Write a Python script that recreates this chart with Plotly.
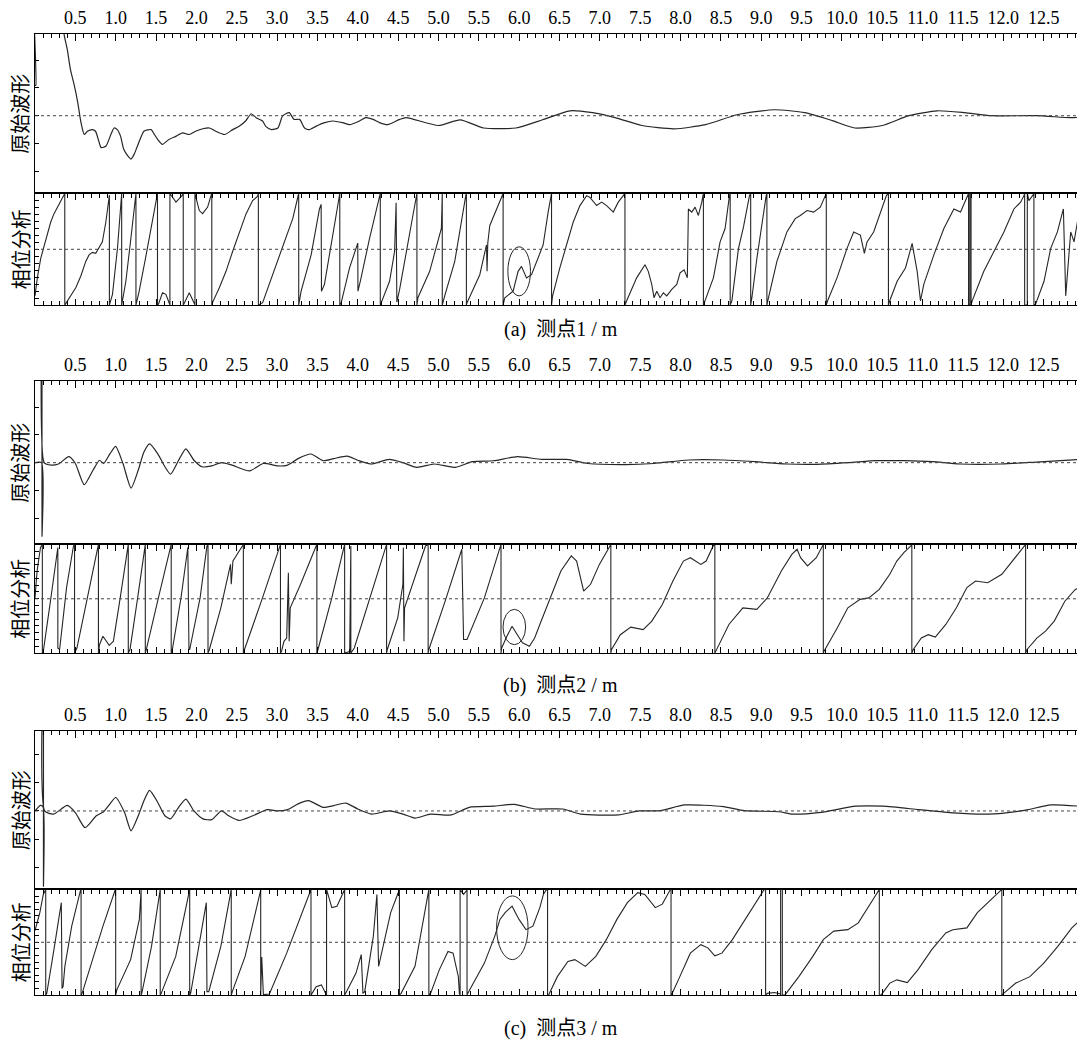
import plotly.graph_objects as go

# ---------------- data ----------------
tick_vals = [0.5, 1.0, 1.5, 2.0, 2.5, 3.0, 3.5, 4.0, 4.5, 5.0, 5.5, 6.0, 6.5,
             7.0, 7.5, 8.0, 8.5, 9.0, 9.5, 10.0, 10.5, 11.0, 11.5, 12.0, 12.5]
tick_text = ["0.5", "1.0", "1.5", "2.0", "2.5", "3.0", "3.5", "4.0", "4.5", "5.0", "5.5", "6.0", "6.5",
             "7.0", "7.5", "8.0", "8.5", "9.0", "9.5", "10.0", "10.5", "11.0", "11.5", "12.0", "12.5"]

# raw waveform, point 1  (distance m, amplitude)
wave_a = [(0.0, 0.37), (0.01, 0.37), (0.012, 3.0), (0.34, 3.0), (0.355, 1.3), (0.36, 1.0), (0.40, 0.81),
          (0.44, 0.56), (0.48, 0.40), (0.53, 0.16), (0.57, -0.085), (0.61, -0.23), (0.65, -0.19), (0.71, -0.17),
          (0.75, -0.19), (0.79, -0.31), (0.82, -0.39), (0.88, -0.37), (0.94, -0.23), (0.98, -0.15), (1.02, -0.17),
          (1.06, -0.25), (1.10, -0.41), (1.15, -0.49), (1.19, -0.53), (1.23, -0.47), (1.27, -0.37), (1.31, -0.27),
          (1.35, -0.19), (1.44, -0.17), (1.48, -0.23), (1.52, -0.29), (1.58, -0.35), (1.66, -0.29), (1.75, -0.25),
          (1.83, -0.21), (1.91, -0.23), (1.99, -0.19), (2.08, -0.16), (2.16, -0.15), (2.24, -0.19), (2.35, -0.23),
          (2.45, -0.17), (2.53, -0.13), (2.61, -0.065), (2.68, 0.024), (2.74, -0.024), (2.82, -0.065), (2.86, -0.13),
          (2.93, -0.17), (3.01, -0.15), (3.07, 0.0), (3.15, 0.037), (3.21, -0.045), (3.28, -0.045), (3.34, -0.15),
          (3.40, -0.17), (3.48, -0.13), (3.59, -0.085), (3.69, -0.065), (3.81, -0.085), (3.90, -0.11), (4.02, -0.065),
          (4.10, -0.024), (4.19, -0.045), (4.27, -0.085), (4.37, -0.11), (4.52, -0.045), (4.60, -0.024), (5.00, -0.12),
          (5.27, -0.05), (5.56, -0.15), (5.96, -0.15), (6.29, -0.05), (6.63, 0.06), (6.91, 0.037), (7.19, -0.024),
          (7.52, -0.12), (7.92, -0.16), (8.31, -0.11), (8.70, 0.012), (9.16, 0.073), (9.54, 0.037), (9.88, -0.06),
          (10.16, -0.15), (10.50, -0.12), (10.83, 0.0), (11.18, 0.06), (11.52, 0.037), (11.85, 0.0), (12.41, 0.0),
          (12.83, -0.024), (12.95, -0.02)]

wave_b = [(0.0, 0.0), (0.08, 0.0), (0.087, -0.9), (0.087, 2.0), (0.114, 0.0), (0.20, -0.03), (0.29, -0.016),
          (0.42, 0.073), (0.50, -0.01), (0.61, -0.27), (0.72, -0.09), (0.80, 0.03), (0.85, -0.01), (0.93, 0.11),
          (1.00, 0.20), (1.09, -0.01), (1.19, -0.31), (1.28, -0.09), (1.35, 0.13), (1.42, 0.23), (1.52, 0.11),
          (1.61, -0.05), (1.68, -0.14), (1.78, 0.03), (1.87, 0.17), (1.97, 0.03), (2.07, -0.05), (2.19, -0.04),
          (2.31, 0.0), (2.44, -0.03), (2.66, -0.10), (2.83, -0.01), (3.01, -0.04), (3.13, -0.03), (3.26, 0.05),
          (3.42, 0.106), (3.57, 0.024), (3.70, 0.05), (3.87, 0.08), (4.00, 0.03), (4.17, -0.016), (4.39, 0.04),
          (4.56, 0.0), (4.73, -0.057), (4.95, -0.016), (5.21, -0.057), (5.42, 0.012), (5.68, 0.024), (5.98, 0.073),
          (6.28, 0.04), (6.59, 0.04), (6.85, -0.01), (7.32, -0.024), (7.67, -0.01), (8.10, 0.033), (8.53, 0.033),
          (8.92, 0.012), (9.31, -0.016), (9.69, -0.02), (10.08, 0.0), (10.43, 0.024), (10.77, 0.024), (11.12, 0.012),
          (11.46, -0.016), (11.98, -0.016), (12.41, 0.008), (12.95, 0.04)]

wave_c = [(0.0, 0.0), (0.07, 0.07), (0.10, 0.05), (0.105, -0.95), (0.105, 2.0), (0.12, 0.0), (0.23, -0.04),
          (0.40, 0.07), (0.50, -0.02), (0.62, -0.21), (0.76, -0.06), (0.85, -0.01), (0.93, 0.09), (1.00, 0.17),
          (1.11, -0.02), (1.19, -0.25), (1.28, -0.06), (1.35, 0.13), (1.42, 0.26), (1.52, 0.11), (1.61, -0.06),
          (1.68, -0.10), (1.78, 0.046), (1.87, 0.15), (1.97, 0.0), (2.08, -0.10), (2.19, -0.11), (2.31, 0.0),
          (2.40, -0.06), (2.53, -0.12), (2.70, -0.06), (2.88, 0.017), (3.01, 0.0), (3.13, 0.017), (3.26, 0.09),
          (3.39, 0.13), (3.57, 0.046), (3.70, 0.067), (3.85, 0.10), (4.00, 0.025), (4.17, -0.04), (4.39, 0.0),
          (4.56, -0.04), (4.71, -0.09), (4.90, -0.04), (5.16, -0.05), (5.38, 0.046), (5.68, 0.06), (5.94, 0.084),
          (6.20, 0.025), (6.54, 0.025), (6.76, -0.04), (7.23, -0.05), (7.49, 0.0), (7.75, 0.004), (8.05, 0.076),
          (8.53, 0.055), (8.79, 0.004), (9.22, -0.01), (9.39, -0.04), (9.74, -0.017), (10.17, 0.06), (10.51, 0.06),
          (10.95, 0.017), (11.38, -0.025), (11.81, -0.04), (12.24, 0.004), (12.59, 0.076), (12.95, 0.06)]

# phase analysis (distance m, phase deg)
phase_a = [(0.0, -150), (0.029, -92), (0.071, -29), (0.133, 30), (0.195, 88), (0.236, 115), (0.298, 146), (0.36, 172),
           (0.369, 180), (0.369, -180), (0.443, -150), (0.505, -124), (0.567, -87), (0.629, -39), (0.670, -18),
           (0.711, -10), (0.753, -13), (0.794, 8), (0.835, 24), (0.878, 88), (0.919, 157), (0.922, 175), (0.922, -180),
           (0.960, -145), (1.022, 3), (1.064, 157), (1.074, 180), (1.074, -180), (1.126, -103), (1.188, 35),
           (1.241, 167), (1.251, 180), (1.251, -180), (1.291, -135), (1.374, -23), (1.456, 88), (1.506, 162),
           (1.518, 180), (1.518, -180), (1.530, -177), (1.580, -140), (1.622, -145), (1.670, -178), (1.672, -180),
           (1.672, 180), (1.747, 152), (1.821, 173), (1.837, 180), (1.837, -180), (1.912, -140), (1.980, -178),
           (1.982, -180), (1.982, 180), (2.036, 125), (2.077, 115), (2.139, 136), (2.181, 173), (2.191, 180),
           (2.191, -180), (2.201, -171), (2.284, -124), (2.367, -71), (2.449, -7), (2.532, 56), (2.615, 114),
           (2.697, 157), (2.759, 171), (2.768, 180), (2.768, -180), (2.821, -172), (2.946, -82), (3.070, 3),
           (3.194, 99), (3.256, 167), (3.268, 180), (3.268, -180), (3.298, -135), (3.422, -18), (3.525, 130),
           (3.546, 145), (3.550, -135), (3.587, -113), (3.774, 173), (3.777, 180), (3.777, -180), (3.795, -172),
           (3.898, -60), (3.981, 3), (4.000, 20), (4.002, -135), (4.034, -100), (4.146, 35), (4.270, 173),
           (4.279, 180), (4.279, -180), (4.291, -172), (4.394, -103), (4.456, -7), (4.475, 150), (4.484, -170),
           (4.518, -130), (4.683, 109), (4.726, 173), (4.733, 180), (4.733, -180), (4.745, -156), (4.891, -71),
           (5.036, 67), (5.047, 180), (5.047, -180), (5.077, -150), (5.201, -40), (5.338, 173), (5.346, 180),
           (5.346, -180), (5.354, -172), (5.512, -82), (5.595, 14), (5.602, -71), (5.611, 20), (5.636, 77),
           (5.760, 152), (5.793, 173), (5.801, 180), (5.801, -180), (5.822, -156), (5.925, -135), (5.987, -71),
           (6.029, -55), (6.091, -92), (6.153, -82), (6.215, -39), (6.297, 14), (6.359, 120), (6.380, 152),
           (6.393, 173), (6.401, 180), (6.401, -180), (6.414, -150), (6.504, -60), (6.588, 14), (6.670, 88),
           (6.753, 141), (6.836, 173), (6.877, 167), (6.960, 141), (7.022, 152), (7.084, 141), (7.166, 120),
           (7.228, 152), (7.290, 173), (7.311, 180), (7.311, -180), (7.332, -166), (7.456, -92), (7.559, -50),
           (7.600, -71), (7.643, -113), (7.671, -156), (7.705, -135), (7.746, -156), (7.787, -140), (7.829, -150),
           (7.891, -129), (7.953, -113), (7.994, -76), (8.044, -66), (8.084, -92), (8.097, 130), (8.139, 120),
           (8.180, 136), (8.221, 109), (8.263, 152), (8.276, 167), (8.283, 180), (8.283, -180), (8.407, -92),
           (8.490, 24), (8.552, 67), (8.606, 173), (8.615, 180), (8.615, -180), (8.636, -166), (8.718, 3),
           (8.780, 72), (8.854, 173), (8.869, 180), (8.869, -180), (8.884, -156), (8.946, -29), (9.008, 88),
           (9.061, 173), (9.070, 180), (9.070, -180), (9.090, -156), (9.194, -39), (9.318, 56), (9.421, 99),
           (9.484, 109), (9.567, 125), (9.649, 120), (9.732, 136), (9.794, 173), (9.806, 180), (9.806, -180),
           (9.822, -166), (9.939, -92), (10.063, 3), (10.145, 56), (10.228, 46), (10.278, -13), (10.311, 24),
           (10.393, 56), (10.476, 120), (10.551, 173), (10.576, 180), (10.576, -180), (10.592, -166), (10.684, -103),
           (10.787, -60), (10.870, 19), (10.932, -71), (10.973, -166), (11.014, -113), (11.139, -18), (11.263, 67),
           (11.387, 130), (11.470, 120), (11.553, 173), (11.569, 180), (11.569, -180), (11.585, -180), (11.585, 180),
           (11.600, 180), (11.600, -180), (11.614, -166), (11.758, -71), (11.883, -7), (12.007, 56), (12.131, 130),
           (12.214, 152), (12.255, 173), (12.264, 180), (12.264, -180), (12.297, -180), (12.297, 180), (12.317, 157),
           (12.363, 173), (12.379, 180), (12.379, -180), (12.400, -177), (12.504, -103), (12.587, 3), (12.670, 56),
           (12.744, 130), (12.773, -150), (12.794, -71), (12.835, 56), (12.876, 24), (12.918, 88), (12.959, 130)]

phase_b = [(0.0, 3), (0.026, 92), (0.068, 170), (0.091, 180), (0.091, -180), (0.103, -174), (0.197, 3), (0.283, 170),
           (0.283, -163), (0.305, -168), (0.391, 37), (0.477, 175), (0.490, 180), (0.490, -180), (0.520, -163),
           (0.649, 3), (0.777, 175), (0.786, 180), (0.786, -180), (0.799, -152), (0.842, -124), (0.885, -141),
           (0.920, -154), (0.950, -146), (0.971, -141), (1.056, 3), (1.152, 175), (1.156, 180), (1.156, -180),
           (1.177, -168), (1.272, 3), (1.358, 175), (1.367, 180), (1.367, -180), (1.379, -168), (1.529, 3),
           (1.680, 175), (1.688, 180), (1.688, -180), (1.702, -168), (1.809, 3), (1.894, 170), (1.908, -168),
           (1.917, -168), (2.046, 3), (2.131, 175), (2.144, 180), (2.144, -180), (2.161, -168), (2.303, -30),
           (2.423, 114), (2.432, 48), (2.453, 125), (2.561, 175), (2.582, 180), (2.582, -180), (2.596, -168),
           (2.819, 3), (3.034, 175), (3.042, 180), (3.042, -180), (3.055, -174), (3.085, -141), (3.119, -130),
           (3.140, 86), (3.150, -141), (3.163, -30), (3.291, 48), (3.484, 175), (3.493, 180), (3.493, -180),
           (3.507, -168), (3.678, 3), (3.829, 175), (3.837, 180), (3.837, -180), (3.900, -175), (3.914, 175),
           (3.914, -180), (3.957, -163), (4.150, 3), (4.345, 175), (4.357, 180), (4.357, -180), (4.366, -168),
           (4.495, -63), (4.559, 48), (4.565, 170), (4.572, -141), (4.580, -30), (4.839, 175), (4.872, 180),
           (4.872, -180), (4.881, -168), (5.096, 3), (5.289, 164), (5.311, -135), (5.354, -135), (5.569, 3),
           (5.762, 175), (5.775, 180), (5.775, -180), (5.783, -163), (5.848, -124), (5.912, -91), (5.977, -119),
           (6.041, -146), (6.127, -157), (6.192, -130), (6.256, -85), (6.386, 3), (6.517, 92), (6.646, 142),
           (6.712, 125), (6.799, 25), (6.885, 48), (6.994, 114), (7.124, 175), (7.136, 180), (7.136, -180),
           (7.145, -168), (7.254, -119), (7.383, -94), (7.536, -102), (7.644, -74), (7.774, -19), (7.905, 59),
           (8.035, 125), (8.121, 136), (8.251, 114), (8.317, 125), (8.404, 175), (8.425, 180), (8.425, -180),
           (8.447, -168), (8.599, -85), (8.772, -30), (8.945, -35), (9.075, 3), (9.249, 92), (9.379, 147),
           (9.444, 164), (9.487, 136), (9.574, 109), (9.682, 136), (9.760, 175), (9.769, 180), (9.769, -180),
           (9.778, -174), (9.943, -96), (10.073, -30), (10.225, -2), (10.333, 3), (10.463, 31), (10.593, 81),
           (10.680, 125), (10.767, 153), (10.854, 175), (10.866, 180), (10.866, -180), (10.884, -168),
           (10.984, -130), (11.070, -119), (11.157, -127), (11.287, -85), (11.418, -30), (11.548, 37), (11.656, 59),
           (11.807, 53), (11.981, 81), (12.111, 125), (12.263, 175), (12.276, 180), (12.276, -180), (12.294, -168),
           (12.415, -130), (12.523, -107), (12.631, -74), (12.762, -8), (12.892, 31), (12.957, 37)]

phase_c = [(0.0, 40), (0.017, 55), (0.060, 101), (0.103, 163), (0.124, 178), (0.133, 180), (0.133, -180),
           (0.146, -174), (0.241, -14), (0.326, 135), (0.335, -157), (0.348, -151), (0.370, -82), (0.455, 55),
           (0.562, 175), (0.571, 180), (0.571, -180), (0.584, -174), (0.713, -59), (0.842, 55), (0.993, 178),
           (1.000, 180), (1.000, -180), (1.014, -162), (1.185, -59), (1.293, 78), (1.315, 178), (1.315, 180),
           (1.315, -180), (1.323, -174), (1.444, -14), (1.543, 178), (1.552, 180), (1.552, -180), (1.564, -174),
           (1.744, -48), (1.908, 178), (1.917, 180), (1.917, -180), (1.929, -174), (2.023, -25), (2.123, 135),
           (2.131, -168), (2.153, -168), (2.303, -14), (2.423, 178), (2.432, 180), (2.432, -180), (2.453, -162),
           (2.604, -48), (2.776, 158), (2.797, 178), (2.797, -180), (2.810, -50), (2.830, -178), (2.905, -176),
           (3.119, -37), (3.420, 178), (3.420, 180), (3.420, -180), (3.484, -151), (3.549, -145), (3.613, -180),
           (3.613, 180), (3.678, 118), (3.742, 123), (3.807, 163), (3.829, 178), (3.837, 180), (3.837, -180),
           (3.849, -174), (3.978, -105), (4.043, -42), (4.064, -174), (4.086, -168), (4.193, 21), (4.237, 163),
           (4.258, -82), (4.408, 101), (4.516, 178), (4.516, 180), (4.516, -180), (4.537, -174), (4.709, -82),
           (4.881, 178), (4.881, 180), (4.881, -180), (4.902, -174), (5.010, -94), (5.118, -31), (5.181, -37),
           (5.246, -117), (5.259, -174), (5.268, -180), (5.268, 180), (5.311, 163), (5.354, 178), (5.354, 180),
           (5.354, -180), (5.362, -174), (5.569, -71), (5.698, 21), (5.762, 78), (5.826, 101), (5.912, 123),
           (5.998, 78), (6.084, 43), (6.170, 55), (6.256, 118), (6.300, 163), (6.334, 178), (6.352, 180),
           (6.352, -180), (6.364, -180), (6.473, -117), (6.604, -65), (6.690, -59), (6.820, -82), (6.950, -48),
           (7.080, 9), (7.211, 78), (7.341, 135), (7.470, 169), (7.557, 163), (7.687, 118), (7.774, 130),
           (7.870, 178), (7.882, 180), (7.882, -180), (7.896, -174), (7.991, -117), (8.121, -37), (8.251, -8),
           (8.338, -19), (8.425, -46), (8.512, -37), (8.642, 9), (8.772, 66), (8.901, 123), (9.032, 178),
           (9.054, 180), (9.054, -180), (9.075, -174), (9.162, -171), (9.240, -176), (9.240, -180), (9.240, 180),
           (9.261, 180), (9.261, -180), (9.292, -180), (9.466, -117), (9.639, -48), (9.769, 9), (9.899, 38),
           (10.073, 43), (10.203, 66), (10.333, 123), (10.454, 178), (10.463, 180), (10.463, -180), (10.485, -180),
           (10.593, -139), (10.680, -128), (10.810, -137), (10.941, -94), (11.113, -25), (11.287, 32), (11.374, 43),
           (11.548, 49), (11.678, 101), (11.851, 146), (11.972, 178), (11.981, 180), (11.981, -180), (12.003, -174),
           (12.155, -139), (12.329, -117), (12.501, -71), (12.675, -14), (12.849, 49), (12.979, 83)]

# circled zones on the phase plots: (x0, x1, y0, y1) in m / deg
circle_a = (5.86, 6.14, -150, 8)
circle_b = (5.80, 6.08, -152, -35)
circle_c = (5.72, 6.11, -59, 158)

captions = ["(a)  测点1 / m", "(b)  测点2 / m", "(c)  测点3 / m"]
wave_label = "原始波形"
phase_label = "相位分析"

# ---------------- layout ----------------
PAGE_W, PAGE_H = 1085, 1041
OFF = 8                          # default page margin around the plot div
W, H = PAGE_W - OFF, PAGE_H - OFF
XL, XR = 35, 1080                # plot-area left / right, page pixels
X_RANGE = [0, 12.95]
SERIF = "Liberation Serif, Times New Roman, Noto Sans CJK SC, serif"
CJK = "Noto Sans CJK SC, sans-serif"


def pxx(px):
    return (px - OFF) / W


def pyy(px):
    return 1 - (px - OFF) / H


groups = [
    dict(wave=wave_a, phase=phase_a, circ=circle_a, cap=captions[0],
         wt=31, wb=191, pb=303, cap_y=327, wrange=[-0.951, 1.0], wdt=0.34),
    dict(wave=wave_b, phase=phase_b, circ=circle_b, cap=captions[1],
         wt=379, wb=543, pb=652, cap_y=684, wrange=[-1.0, 1.0], wdt=0.34),
    dict(wave=wave_c, phase=phase_c, circ=circle_c, cap=captions[2],
         wt=730, wb=889, pb=995, cap_y=1028, wrange=[-0.99, 1.01], wdt=0.355),
]

fig = go.Figure()
layout = dict(width=W, height=H, margin=dict(l=0, r=0, t=0, b=0),
              paper_bgcolor="white", plot_bgcolor="white", showlegend=False)
shapes, annotations = [], []
LINE = "#000000"
TRACE = "#262626"


def sfx(k):
    return "" if k == 1 else str(k)


n = 0
for g in groups:
    # waveform panel
    n += 1
    s = sfx(n)
    xs, ys = zip(*g["wave"])
    fig.add_trace(go.Scatter(x=xs, y=ys, mode="lines", xaxis=f"x{s}", yaxis=f"y{s}",
                             line=dict(color=TRACE, width=1.2, shape="spline", smoothing=0.6),
                             hoverinfo="skip"))
    layout[f"xaxis{s}"] = dict(domain=[pxx(XL), pxx(XR)], range=X_RANGE, anchor=f"y{s}", side="top",
                               showline=True, linecolor=LINE, linewidth=1.4, mirror=True,
                               showgrid=False, zeroline=False,
                               tickmode="array", tickvals=tick_vals, ticktext=tick_text,
                               ticks="inside", ticklen=7, tickcolor=LINE, tickwidth=1,
                               tickfont=dict(family=SERIF, size=18, color="black"),
                               ticklabelstandoff=2,
                               minor=dict(ticks="inside", ticklen=4, tickcolor=LINE, tickmode="linear",
                                          tick0=0, dtick=0.1, showgrid=False))
    layout[f"yaxis{s}"] = dict(domain=[pyy(g["wb"]), pyy(g["wt"])], range=g["wrange"], anchor=f"x{s}",
                               showline=True, linecolor=LINE, linewidth=1.4, mirror=True,
                               showgrid=False, zeroline=False, showticklabels=False,
                               tickmode="linear", tick0=0, dtick=g["wdt"],
                               ticks="inside", ticklen=4, tickcolor=LINE)
    shapes.append(dict(type="line", xref=f"x{s} domain", yref=f"y{s}", x0=0, x1=1, y0=0, y1=0,
                       line=dict(color="#444", width=1, dash="3px,3px")))
    annotations.append(dict(text=wave_label, xref="paper", yref="paper", x=pxx(20),
                            y=pyy((g["wt"] + g["wb"]) / 2), xanchor="center", yanchor="middle",
                            textangle=-90, showarrow=False,
                            font=dict(family=CJK, size=20, color="black")))
    # phase panel
    n += 1
    s = sfx(n)
    xs, ys = zip(*g["phase"])
    fig.add_trace(go.Scatter(x=xs, y=ys, mode="lines", xaxis=f"x{s}", yaxis=f"y{s}",
                             line=dict(color=TRACE, width=1.1), hoverinfo="skip"))
    layout[f"xaxis{s}"] = dict(domain=[pxx(XL), pxx(XR)], range=X_RANGE, anchor=f"y{s}",
                               showline=True, linecolor=LINE, linewidth=1.4, mirror="ticks",
                               showgrid=False, zeroline=False, showticklabels=False,
                               tickmode="linear", tick0=0, dtick=0.5,
                               ticks="inside", ticklen=6, tickcolor=LINE,
                               minor=dict(ticks="inside", ticklen=4, tickcolor=LINE, tickmode="linear",
                                          tick0=0, dtick=0.1, showgrid=False))
    layout[f"yaxis{s}"] = dict(domain=[pyy(g["pb"]), pyy(g["wb"])], range=[-180, 180], anchor=f"x{s}",
                               showline=True, linecolor=LINE, linewidth=1.4, mirror=True,
                               showgrid=False, zeroline=False, showticklabels=False,
                               tickmode="linear", tick0=0, dtick=22.5,
                               ticks="inside", ticklen=4, tickcolor=LINE)
    shapes.append(dict(type="line", xref=f"x{s} domain", yref=f"y{s}", x0=0, x1=1, y0=0, y1=0,
                       line=dict(color="#444", width=1, dash="3px,3px")))
    cx0, cx1, cy0, cy1 = g["circ"]
    shapes.append(dict(type="circle", xref=f"x{s}", yref=f"y{s}", x0=cx0, x1=cx1, y0=cy0, y1=cy1,
                       line=dict(color=TRACE, width=1)))
    annotations.append(dict(text=phase_label, xref="paper", yref="paper", x=pxx(20),
                            y=pyy((g["wb"] + g["pb"]) / 2), xanchor="center", yanchor="middle",
                            textangle=-90, showarrow=False,
                            font=dict(family=CJK, size=20, color="black")))
    annotations.append(dict(text=g["cap"], xref="paper", yref="paper", x=pxx(561), y=pyy(g["cap_y"]),
                            xanchor="center", yanchor="middle", showarrow=False,
                            font=dict(family=SERIF, size=20, color="black")))

layout["shapes"] = shapes
layout["annotations"] = annotations
fig.update_layout(**layout)
fig.write_html("out.html")
